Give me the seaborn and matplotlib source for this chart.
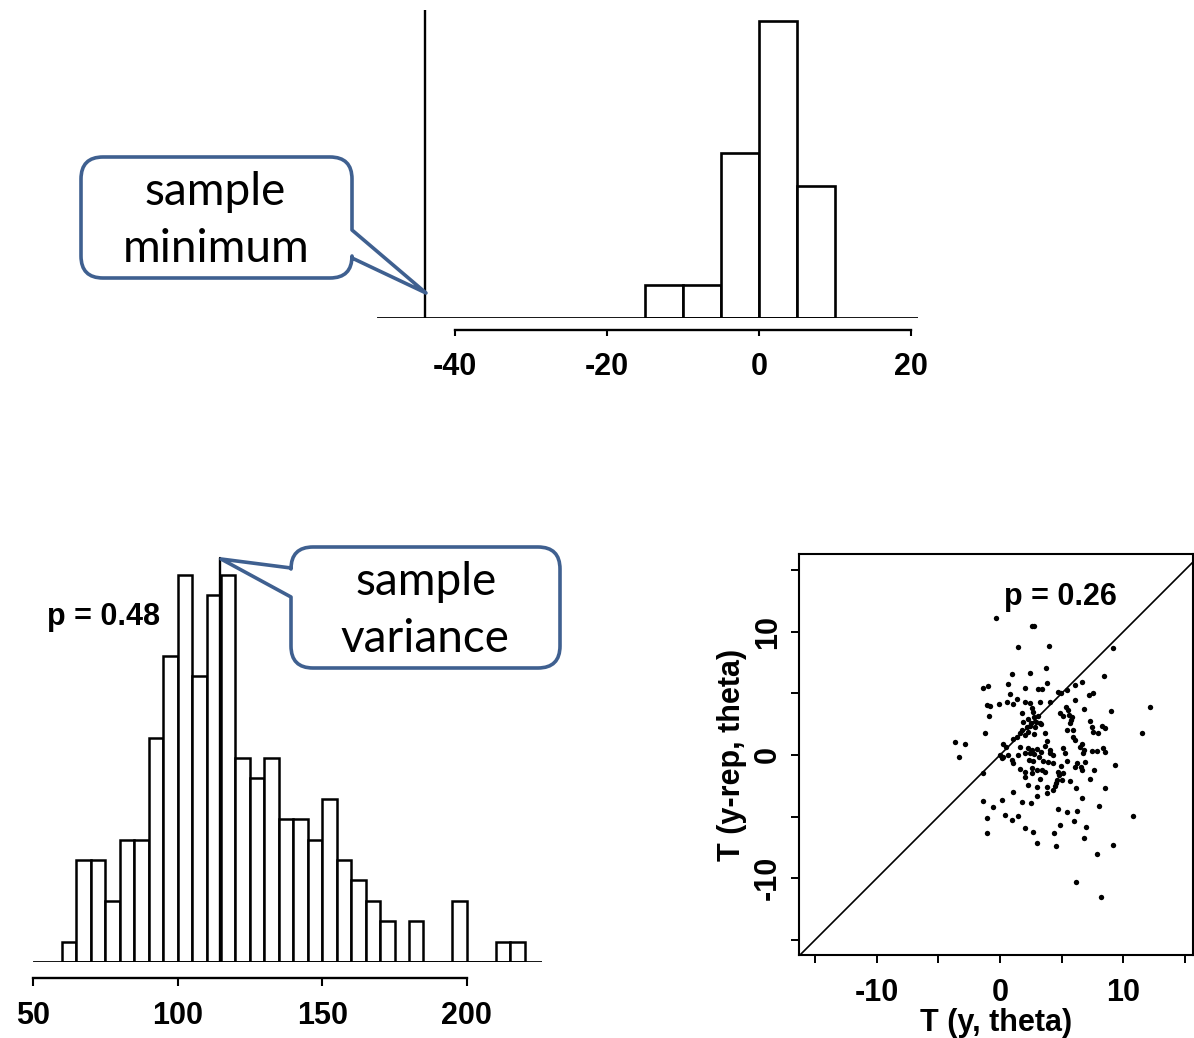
import numpy as np
import pandas as pd
import matplotlib
matplotlib.use("Agg")
import matplotlib.pyplot as plt
import seaborn as sns
from matplotlib.path import Path
from matplotlib.patches import PathPatch

# ---------------- data ----------------
# Top panel: replicated sample minima (bin left edges, width 5)
min_bin_left = [-15, -10, -5, 0, 5]
min_counts = [1, 1, 5, 9, 4]
min_bin_width = 5
obs_min = -44
min_ticks = [-40, -20, 0, 20]
min_ticklabels = ["-40", "-20", "0", "20"]

# Bottom-left panel: replicated sample variances (bin left edges, width 5)
var_bin_left = [60, 65, 70, 75, 80, 85, 90, 95, 100, 105, 110, 115, 120, 125,
                130, 135, 140, 145, 150, 155, 160, 165, 170, 175, 180, 185,
                190, 195, 200, 205, 210, 215]
var_counts = [1, 5, 5, 3, 6, 6, 11, 15, 19, 14, 18, 19, 10, 9, 10, 7, 7, 6,
              8, 5, 4, 3, 2, 0, 2, 0, 0, 3, 0, 0, 1, 1]
var_bin_width = 5
obs_var = 114.7
var_obs_height = 19.8
var_ticks = [50, 100, 150, 200]
var_ticklabels = ["50", "100", "150", "200"]
var_p_text = "p = 0.48"

# Bottom-right panel: T(y, theta) vs T(y-rep, theta)
t_y = [-0.35, 2.57, 2.78, 1.49, 3.97, 9.19, 3.73, 2.46, 0.95, 8.46, 6.62, 6.08,
       0.68, 2.03, 3.78, -1.35, -0.95, 3.11, 3.38, 5.41, 4.73, 4.95, 0.81, 7.57,
       7.24, 1.35, 4.05, 3.24, 2.03, 6.08, -1.08, -0.81, -0.05, 0.54, 1.08,
       12.16, 5.35, 5.54, 6.84, 9.0, 2.43, 2.57, 2.7, 1.76, -0.86, 4.86, 5.08,
       5.62, 2.78, 2.3, 3.11, 3.24, 1.89, 5.78, 7.3, 8.24, 8.51, 7.43, 5.68,
       2.43, 2.84, 3.32, 5.41, 5.95, 7.51, 7.97, 11.49, -1.22, 1.62, 3.65, 2.3,
       2.03, 5.95, 1.35, 2.78, 6.08, 1.08, 3.78, 6.62, 6.49, -3.65, -2.84, 0.22,
       0.49, 1.62, 3.65, 5.14, 8.38, 6.84, 7.43, 7.84, 8.51, 2.3, 2.57, 2.97,
       3.3, 0.0, 0.27, 0.68, 2.03, 2.43, 4.05, 4.32, 5.27, -3.3, 0.14, 0.95,
       2.38, 2.7, 3.51, 3.92, 5.41, 6.22, 6.89, 9.32, 1.08, 6.08, 6.57, 6.62,
       4.95, 1.62, 2.57, 2.97, 3.38, 3.65, 2.03, -1.35, 7.65, 2.57, 4.73, 5.14,
       7.3, 2.03, 3.24, 4.78, 4.59, 5.68, 4.46, 4.32, 2.3, 2.97, 3.78, 6.16,
       8.51, 1.03, 2.97, 3.78, 6.62, -1.41, 0.14, 1.76, 2.51, -0.54, 8.0, 4.68,
       5.41, 6.22, 10.76, 0.41, 0.97, 1.49, -1.03, 6.0, 4.84, 6.97, 2.03, 2.65,
       -1.03, 4.38, 6.84, 2.97, 4.51, 9.19, 7.84, 6.14, 8.19, 2.16, 2.51, 2.92,
       1.76, 4.05, 2.76, 3.19, 4.32, 1.49, 6.76, 5.86, 5.0, 4.51]
t_yrep = [11.08, 10.46, 10.46, 8.78, 8.84, 8.65, 7.08, 6.68, 6.54, 6.41, 5.95,
          5.68, 5.76, 5.46, 5.81, 5.41, 5.59, 5.32, 5.32, 5.27, 5.14, 5.0, 4.95,
          5.05, 4.86, 4.51, 4.32, 4.27, 4.32, 4.46, 4.05, 4.0, 4.14, 4.27, 4.14,
          3.92, 3.92, 3.65, 3.7, 3.57, 4.19, 3.78, 3.51, 3.38, 3.19, 3.38, 3.16,
          3.24, 3.11, 2.89, 3.16, 2.57, 2.7, 2.84, 2.78, 2.35, 2.16, 2.3, 2.62,
          2.35, 2.3, 2.49, 2.03, 2.03, 1.89, 1.81, 1.81, 1.76, 1.81, 1.81, 1.89,
          1.62, 1.49, 1.49, 1.68, 1.22, 1.27, 1.14, 0.89, 0.68, 1.08, 0.89, 0.89,
          0.68, 0.68, 0.73, 0.54, 0.54, 0.41, 0.35, 0.35, 0.27, 0.54, 0.41, 0.46,
          0.27, 0.0, -0.14, 0.0, 0.14, 0.19, 0.14, 0.0, 0.14, -0.19, -0.27,
          -0.41, -0.41, -0.46, -0.46, -0.54, -0.46, -0.62, -0.54, -0.81, -0.62,
          -0.95, -0.95, -1.22, -0.89, -1.16, -1.08, -1.22, -1.22, -1.35, -1.35,
          -1.49, -1.22, -1.49, -1.35, -1.49, -1.97, -1.76, -1.97, -1.62, -2.03,
          -2.08, -2.51, -2.84, -2.43, -2.57, -2.57, -2.7, -2.7, -2.97, -3.32,
          -3.11, -3.51, -3.73, -3.65, -3.78, -3.92, -4.19, -4.14, -4.41, -4.59,
          -4.54, -4.95, -4.86, -5.27, -4.95, -5.14, -5.35, -5.68, -5.81, -5.95,
          -6.22, -6.35, -6.35, -6.7, -7.16, -7.38, -7.3, -8.03, -10.27, -11.49,
          2.3, 2.62, 2.7, 2.0, 0.41, 0.08, -0.14, -0.62, 0.0, 0.14, 3.11, -2.03,
          -2.3]
scatter_ticks = [-15, -10, -5, 0, 5, 10, 15]
scatter_ticklabels = ["", "-10", "", "0", "", "10", ""]
scatter_p_text = "p = 0.26"
scatter_xlabel = "T (y, theta)"
scatter_ylabel = "T (y-rep, theta)"

callout_color = "#3F6090"

# ---------------- style ----------------
sns.set_style("white")
plt.rcParams["font.family"] = ["Liberation Sans", "DejaVu Sans"]
plt.rcParams["axes.unicode_minus"] = False
plt.rcParams["text.color"] = "black"
plt.rcParams["axes.labelcolor"] = "black"
plt.rcParams["xtick.color"] = "black"
plt.rcParams["ytick.color"] = "black"

W, H = 1194, 1038
fig = plt.figure(figsize=(W / 100, H / 100), dpi=100)
fig.patch.set_facecolor("white")


def px_axes(left, top, right, bottom):
    return fig.add_axes([left / W, 1 - bottom / H, (right - left) / W, (bottom - top) / H])


PT = 72 / 100  # points per pixel
TICKFS = 22

# ---------------- top: minimum ----------------
ax1 = px_axes(377, 10, 918, 318)
edges1 = min_bin_left + [min_bin_left[-1] + min_bin_width]
centers1 = [b + min_bin_width / 2 for b in min_bin_left]
sns.histplot(x=centers1, weights=min_counts, bins=edges1, ax=ax1,
             color="white", edgecolor="black", linewidth=1.9, alpha=1)
ax1.set_xlim(-50.26, 20.92)
ax1.set_ylim(0, 9.33)
ax1.axhline(0, color="black", lw=2.0)
ax1.axvline(obs_min, color="black", lw=1.7)
for s in ["left", "right", "top"]:
    ax1.spines[s].set_visible(False)
ax1.spines["bottom"].set_position(("outward", 12 * PT))
ax1.spines["bottom"].set_bounds(-40, 20)
ax1.spines["bottom"].set_linewidth(1.7)
ax1.spines["bottom"].set_color("black")
ax1.set_xticks(min_ticks)
ax1.set_xticklabels(min_ticklabels, fontweight="bold")
ax1.set_yticks([])
ax1.set_xlabel("")
ax1.set_ylabel("")
ax1.tick_params(axis="x", direction="out", length=6 * PT, width=1.5,
                labelsize=TICKFS, pad=16 * PT, bottom=True)
ax1.patch.set_alpha(0)

# ---------------- bottom-left: variance ----------------
ax2 = px_axes(33, 548, 542, 962)
edges2 = var_bin_left + [var_bin_left[-1] + var_bin_width]
centers2 = [b + var_bin_width / 2 for b in var_bin_left]
sns.histplot(x=centers2, weights=var_counts, bins=edges2, ax=ax2,
             color="white", edgecolor="black", linewidth=1.8, alpha=1)
ax2.set_xlim(50, 226)
ax2.set_ylim(0, 20.3)
ax2.axhline(0, color="black", lw=2.0)
ax2.plot([obs_var, obs_var], [0, var_obs_height], color="black", lw=1.7)
for s in ["left", "right", "top"]:
    ax2.spines[s].set_visible(False)
ax2.spines["bottom"].set_position(("outward", 16 * PT))
ax2.spines["bottom"].set_bounds(50, 200)
ax2.spines["bottom"].set_linewidth(1.7)
ax2.spines["bottom"].set_color("black")
ax2.set_xticks(var_ticks)
ax2.set_xticklabels(var_ticklabels, fontweight="bold")
ax2.set_yticks([])
ax2.set_xlabel("")
ax2.set_ylabel("")
ax2.tick_params(axis="x", direction="out", length=8 * PT, width=1.5,
                labelsize=TICKFS, pad=15 * PT, bottom=True)
ax2.text(74.5, 16.9, var_p_text, ha="center", va="center", fontsize=TICKFS,
         fontweight="bold")
ax2.patch.set_alpha(0)

# ---------------- bottom-right: scatter ----------------
ax3 = px_axes(799, 554, 1193, 955)
sns.scatterplot(x=t_y, y=t_yrep, ax=ax3, s=15, color="black", linewidth=0)
ax3.set_xlim(-16.3, 15.65)
ax3.set_ylim(-16.22, 16.3)
lim = 17
ax3.plot([-lim, lim], [-lim, lim], color="black", lw=1.2)
for s in ax3.spines.values():
    s.set_visible(True)
    s.set_linewidth(1.5)
    s.set_color("black")
ax3.set_xticks(scatter_ticks)
ax3.set_xticklabels(scatter_ticklabels, fontweight="bold")
ax3.set_yticks(scatter_ticks)
ax3.set_yticklabels(scatter_ticklabels, fontweight="bold", rotation=90, va="center")
ax3.tick_params(direction="out", length=8 * PT, width=1.4, labelsize=TICKFS,
                bottom=True, left=True)
ax3.tick_params(axis="x", pad=15 * PT)
ax3.tick_params(axis="y", pad=8 * PT)
ax3.set_xlabel(scatter_xlabel, fontsize=TICKFS, fontweight="bold", labelpad=0)
ax3.set_ylabel(scatter_ylabel, fontsize=TICKFS, fontweight="bold", labelpad=4)
ax3.text(4.87, 12.8, scatter_p_text, ha="center", va="center", fontsize=TICKFS,
         fontweight="bold")

# ---------------- callouts (overlay in pixel coords) ----------------
axo = fig.add_axes([0, 0, 1, 1], zorder=10)
axo.set_xlim(0, W)
axo.set_ylim(H, 0)
axo.axis("off")
axo.patch.set_alpha(0)


def callout_path(x0, y0, x1, y1, r, side, a, b, tip):
    verts, codes = [], []

    def mv(p):
        verts.append(p); codes.append(Path.MOVETO)

    def ln(p):
        verts.append(p); codes.append(Path.LINETO)

    def cv(c, p):
        verts.extend([c, p]); codes.extend([Path.CURVE3, Path.CURVE3])

    mv((x0 + r, y0))
    ln((x1 - r, y0))
    cv((x1, y0), (x1, y0 + r))
    if side == "right":
        ln((x1, a)); ln(tip); ln((x1, b))
    ln((x1, y1 - r))
    cv((x1, y1), (x1 - r, y1))
    ln((x0 + r, y1))
    cv((x0, y1), (x0, y1 - r))
    if side == "left":
        ln((x0, b)); ln(tip); ln((x0, a))
    ln((x0, y0 + r))
    cv((x0, y0), (x0 + r, y0))
    verts.append((x0 + r, y0)); codes.append(Path.CLOSEPOLY)
    return Path(verts, codes)


p1 = callout_path(81, 157, 352, 278, 22, "right", 230, 258, (426, 293))
axo.add_patch(PathPatch(p1, facecolor="white", edgecolor=callout_color, lw=2.6,
                        joinstyle="round"))
p2 = callout_path(291, 547, 560, 668, 22, "left", 568, 597, (221, 559))
axo.add_patch(PathPatch(p2, facecolor="white", edgecolor=callout_color, lw=2.6,
                        joinstyle="round"))

CFS = 33
CFONT = ["Lato", "DejaVu Sans"]
axo.text(215, 205, "sample", ha="center", va="baseline", fontsize=CFS, family=CFONT)
axo.text(216, 262, "minimum", ha="center", va="baseline", fontsize=CFS, family=CFONT)
axo.text(426, 595, "sample", ha="center", va="baseline", fontsize=CFS, family=CFONT)
axo.text(425, 652, "variance", ha="center", va="baseline", fontsize=CFS, family=CFONT)

fig.savefig("out.png", dpi=100, facecolor="white")
